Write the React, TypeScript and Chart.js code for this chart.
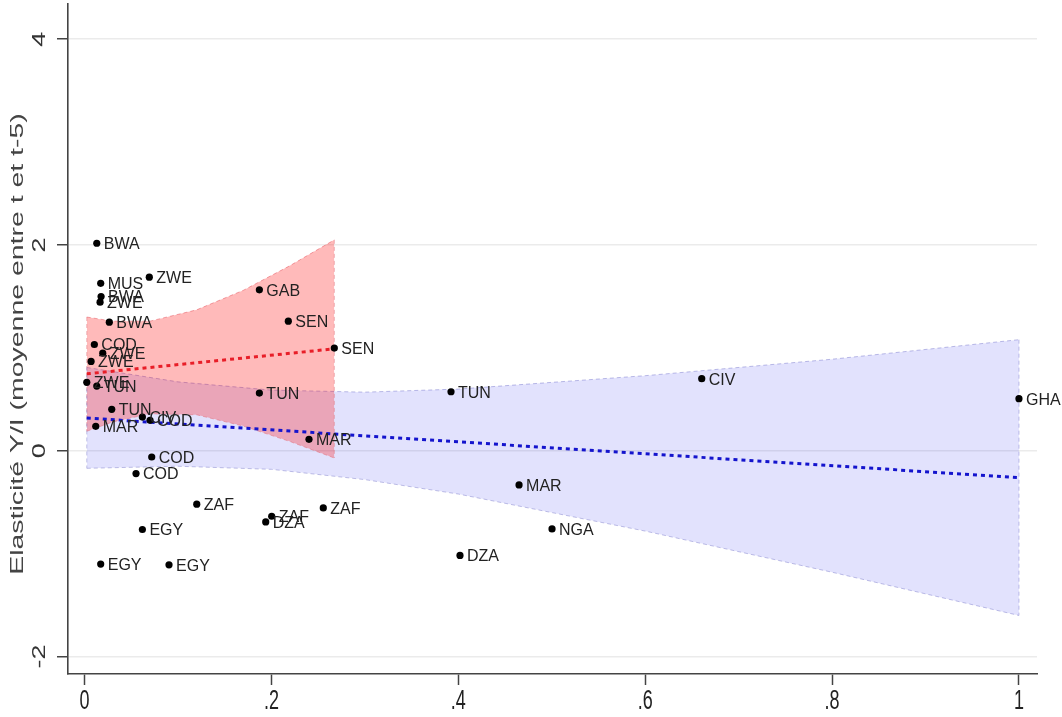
import React, { useEffect, useRef } from "react";
import { Chart, registerables } from "chart.js";

Chart.register(...registerables);

// ---- Data ----
const countryCodes = [
  "BWA", "MUS", "BWA", "ZWE", "ZWE", "BWA", "COD", "ZWE", "ZWE", "ZWE",
  "TUN", "TUN", "CIV", "COD", "MAR", "COD", "COD", "ZAF", "EGY", "EGY",
  "EGY", "GAB", "SEN", "SEN", "TUN", "MAR", "ZAF", "DZA", "ZAF", "TUN",
  "MAR", "NGA", "DZA", "CIV", "GHA",
];
const xValues = [
  0.0131, 0.0173, 0.0177, 0.0166, 0.0693, 0.0265, 0.0105, 0.0195, 0.007, 0.0024,
  0.0131, 0.0291, 0.0619, 0.0701, 0.012, 0.0719, 0.0551, 0.1201, 0.0619, 0.0173,
  0.0904, 0.1871, 0.2181, 0.2673, 0.1871, 0.2402, 0.2003, 0.1939, 0.2555, 0.3922,
  0.465, 0.5003, 0.4018, 0.6605, 1.0,
];
const yValues = [
  2.017, 1.628, 1.499, 1.444, 1.687, 1.25, 1.033, 0.949, 0.869, 0.665,
  0.629, 0.403, 0.328, 0.296, 0.238, -0.06, -0.221, -0.519, -0.765, -1.101,
  -1.108, 1.564, 1.26, 0.998, 0.561, 0.112, -0.636, -0.691, -0.555, 0.574,
  -0.332, -0.759, -1.017, 0.701, 0.507,
];

// red group fit + confidence band
const redFitX = [0.0024, 0.2673];
const redFitY = [0.748, 0.991];
const redBandX = [0.0024, 0.03, 0.07, 0.12, 0.17, 0.22, 0.2673];
const redBandUpper = [1.3, 1.26, 1.26, 1.37, 1.56, 1.8, 2.05];
const redBandLower = [0.19, 0.28, 0.36, 0.35, 0.24, 0.09, -0.07];

// blue group fit + confidence band
const blueFitX = [0.0024, 1.0];
const blueFitY = [0.318, -0.261];
const blueBandX = [0.0024, 0.1, 0.2, 0.3, 0.4, 0.6, 0.8, 1.0];
const blueBandUpper = [0.81, 0.67, 0.59, 0.57, 0.6, 0.73, 0.89, 1.08];
const blueBandLower = [-0.17, -0.15, -0.18, -0.28, -0.42, -0.78, -1.18, -1.6];

const xTicks = [0, 0.2, 0.4, 0.6, 0.8, 1];
const xTickLabels = ["0", ".2", ".4", ".6", ".8", "1"];
const yTicks = [-2, 0, 2, 4];
const yTickLabels = ["-2", "0", "2", "4"];
const yTitle = "Elasticité Y/I (moyenne entre t et t-5)";

const FONT = '"Liberation Sans", Arial, Helvetica, sans-serif';
const AXIS_STRETCH = 1.5;

const pts = (xs: number[], ys: number[]) => xs.map((x, i) => ({ x, y: ys[i] }));

export default function App() {
  const ref = useRef<HTMLCanvasElement>(null);

  useEffect(() => {
    const canvas = ref.current;
    if (!canvas) return;

    const blueEdge = "rgba(130,130,205,0.5)";
    const redEdge = "rgba(225,110,120,0.55)";
    const scatterIndex = 10;

    const lastB = blueBandX.length - 1;
    const lastR = redBandX.length - 1;

    const labelPlugin = {
      id: "pointLabels",
      afterDatasetsDraw(chart: any) {
        const meta = chart.getDatasetMeta(scatterIndex);
        const c = chart.ctx as CanvasRenderingContext2D;
        c.save();
        c.font = `16px ${FONT}`;
        c.fillStyle = "#222";
        c.textAlign = "left";
        c.textBaseline = "middle";
        meta.data.forEach((p: any, i: number) => {
          c.fillText(countryCodes[i], p.x + 7, p.y + 1.5);
        });
        c.restore();
      },
      afterDraw(chart: any) {
        const c = chart.ctx as CanvasRenderingContext2D;
        const ys = chart.scales.y;
        const xs = chart.scales.x;
        const area = chart.chartArea;
        c.save();
        c.textAlign = "center";
        c.textBaseline = "middle";
        c.font = `18px ${FONT}`;
        // y tick labels (rotated, stretched along text direction)
        c.fillStyle = "#333";
        yTicks.forEach((v, i) => {
          c.save();
          c.translate(40, ys.getPixelForValue(v));
          c.rotate(-Math.PI / 2);
          c.scale(AXIS_STRETCH, 1);
          c.fillText(yTickLabels[i], 0, 0);
          c.restore();
        });
        // x tick labels (stretched vertically)
        c.fillStyle = "#222";
        xTicks.forEach((v, i) => {
          c.save();
          c.translate(xs.getPixelForValue(v), 702);
          c.scale(1, AXIS_STRETCH);
          c.fillText(xTickLabels[i], 0, 0);
          c.restore();
        });
        // y axis title
        c.save();
        c.translate(18, (area.top + area.bottom) / 2 + 5);
        c.rotate(-Math.PI / 2);
        c.scale(1.58, 1);
        c.fillStyle = "#444";
        c.fillText(yTitle, 0, 0);
        c.restore();
        c.restore();
      },
    };

    const lineBase = {
      type: "line" as const,
      pointRadius: 0,
      borderWidth: 1,
      tension: 0,
    };

    const chart = new Chart(canvas, {
      type: "scatter",
      data: {
        datasets: [
          // 0 blue upper
          { ...lineBase, data: pts(blueBandX, blueBandUpper), borderColor: blueEdge, borderDash: [4, 3], fill: false, order: 20 },
          // 1 blue lower (fills to upper)
          { ...lineBase, data: pts(blueBandX, blueBandLower), borderColor: blueEdge, borderDash: [4, 3], fill: "-1", backgroundColor: "rgba(0,0,240,0.115)", order: 19 },
          // 2 red upper
          { ...lineBase, data: pts(redBandX, redBandUpper), borderColor: redEdge, borderDash: [4, 3], fill: false, order: 18 },
          // 3 red lower
          { ...lineBase, data: pts(redBandX, redBandLower), borderColor: redEdge, borderDash: [4, 3], fill: "-1", backgroundColor: "rgba(255,0,0,0.27)", order: 17 },
          // 4-7 band end edges
          { ...lineBase, data: [{ x: blueBandX[0], y: blueBandUpper[0] }, { x: blueBandX[0], y: blueBandLower[0] }], borderColor: blueEdge, borderDash: [4, 3], fill: false, order: 16 },
          { ...lineBase, data: [{ x: blueBandX[lastB], y: blueBandUpper[lastB] }, { x: blueBandX[lastB], y: blueBandLower[lastB] }], borderColor: blueEdge, borderDash: [4, 3], fill: false, order: 16 },
          { ...lineBase, data: [{ x: redBandX[0], y: redBandUpper[0] }, { x: redBandX[0], y: redBandLower[0] }], borderColor: redEdge, borderDash: [4, 3], fill: false, order: 16 },
          { ...lineBase, data: [{ x: redBandX[lastR], y: redBandUpper[lastR] }, { x: redBandX[lastR], y: redBandLower[lastR] }], borderColor: redEdge, borderDash: [4, 3], fill: false, order: 16 },
          // 8 red fit
          { ...lineBase, data: pts(redFitX, redFitY), borderColor: "rgb(232,30,40)", borderWidth: 3, borderDash: [4, 4], fill: false, order: 5 },
          // 9 blue fit
          { ...lineBase, data: pts(blueFitX, blueFitY), borderColor: "rgb(20,20,205)", borderWidth: 3, borderDash: [4, 4], fill: false, order: 5 },
          // 10 scatter
          {
            type: "scatter",
            data: pts(xValues, yValues),
            pointRadius: 3.6,
            pointBackgroundColor: "#000",
            pointBorderWidth: 0,
            borderColor: "#000",
            order: 1,
          } as any,
        ],
      },
      options: {
        responsive: false,
        animation: false,
        devicePixelRatio: 1,
        layout: { padding: { top: 3, right: 25, left: 0, bottom: 0 } },
        plugins: {
          legend: { display: false },
          tooltip: { enabled: false },
        },
        scales: {
          x: {
            type: "linear",
            min: -0.0177,
            max: 1.0193,
            afterBuildTicks: (scale: any) => {
              scale.ticks = xTicks.map((v) => ({ value: v }));
            },
            afterFit: (scale: any) => {
              scale.height = 43;
            },
            ticks: { display: false },
            grid: {
              drawOnChartArea: false,
              drawTicks: true,
              tickLength: 11,
              tickColor: "#444",
              tickWidth: 1.5,
            },
            border: { color: "#444", width: 1.6 },
          },
          y: {
            type: "linear",
            min: -2.169,
            max: 4.342,
            afterBuildTicks: (scale: any) => {
              scale.ticks = yTicks.map((v) => ({ value: v }));
            },
            afterFit: (scale: any) => {
              scale.width = 68;
            },
            ticks: { display: false },
            grid: {
              color: "#ebebeb",
              lineWidth: 1.5,
              drawTicks: true,
              tickLength: 11,
              tickColor: "#444",
              tickWidth: 1.5,
            },
            border: { color: "#444", width: 1.6 },
          },
        },
      },
      plugins: [labelPlugin],
    } as any);

    return () => chart.destroy();
  }, []);

  return (
    <div style={{ position: "absolute", left: 0, top: 0, width: 1062, height: 717, background: "#fff" }}>
      <canvas ref={ref} width={1062} height={717} style={{ display: "block" }} />
    </div>
  );
}
